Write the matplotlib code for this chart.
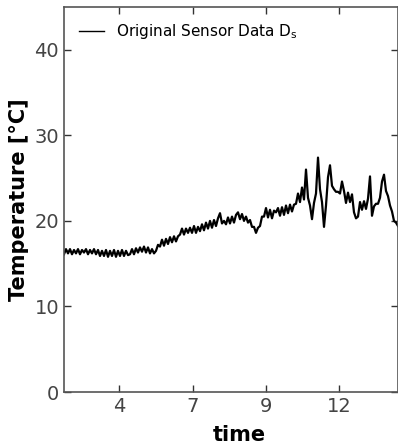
import numpy as np
import matplotlib
matplotlib.use("Agg")
import matplotlib.pyplot as plt

# sensor temperature readings (one value per ~2 px)
temps = [
    16.1, 16.7, 16.2, 16.7, 16.1, 16.6, 16.2, 16.7, 16.1, 16.6, 16.3, 16.7, 16.1, 16.6, 16.2, 16.7, 16.1, 16.6,
    15.9, 16.5, 15.9, 16.6, 15.8, 16.5, 15.9, 16.6, 15.8, 16.5, 15.9, 16.6, 15.9, 16.5, 16.0,
    16.1, 16.7, 16.1, 16.8, 16.3, 16.9, 16.4, 17.0, 16.3, 16.9, 16.2, 16.7, 16.2,
    16.5, 17.2, 17.0, 17.8, 17.1, 17.9, 17.3, 18.1, 17.5, 18.2, 17.6, 18.2,
    18.4, 19.1, 18.4, 19.1, 18.6, 19.2, 18.6, 19.4, 18.6, 19.3,
    18.8, 19.6, 18.9, 19.8, 19.1, 20.0, 19.2, 20.1, 19.4, 20.3,
    20.9, 19.7, 20.0, 19.6, 20.4, 19.7, 20.5, 19.8, 20.7, 21.0, 20.2, 20.8, 20.0, 20.5, 19.8,
    20.1, 19.3, 19.3, 18.6, 19.2, 19.4,
    20.5, 20.5, 21.5, 20.4, 21.3, 20.3, 21.2, 21.0, 21.5, 20.6, 21.6, 20.7, 21.8, 20.9, 21.9, 21.1, 21.9,
    22.0, 23.2, 22.2, 23.9, 22.5, 26.0, 22.7, 21.8, 20.2, 22.1, 23.2, 27.4, 23.7, 22.2, 19.3, 21.8,
    25.1, 26.5, 24.1, 23.7, 23.4, 23.4, 23.2, 24.6, 23.5, 22.1, 23.3, 22.2, 23.1, 21.0, 20.3, 20.5,
    22.2, 21.3, 22.3, 21.4, 22.6, 25.2, 20.6, 21.7, 22.0, 22.0, 22.7, 24.6, 25.4, 23.5, 22.9, 21.8,
    21.1, 20.0, 19.8, 19.4,
]
tick_pos = [27.5, 64.5, 101, 137.5]
tick_labels = ["4", "7", "9", "12"]
y_ticks = [0, 10, 20, 30, 40]

fig = plt.figure(figsize=(3.98, 4.46), dpi=100)
ax = fig.add_axes([64 / 398, 54 / 446, 334 / 398, 385 / 446])

t = np.arange(len(temps))
ax.plot(t, temps, color="black", lw=1.6, label="Original Sensor Data D$_\\mathregular{s}$")

ax.set_xlim(0, len(temps) - 1)
ax.set_ylim(0, 45)
ax.set_xticks(tick_pos)
ax.set_xticklabels(tick_labels)
ax.set_yticks(y_ticks)

ax.tick_params(direction="in", top=True, right=True, length=5, width=1,
               labelsize=14, labelcolor="#444444", color="#333333")
for s in ax.spines.values():
    s.set_color("#555555")
    s.set_linewidth(1.2)

ax.set_xlabel("time", fontsize=15, fontweight="bold")
ax.xaxis.set_label_coords(0.524, -0.086)
ax.set_ylabel("Temperature [°C]", fontsize=15, fontweight="bold", labelpad=4)

leg = ax.legend(loc="upper left", frameon=False, fontsize=11, handlelength=1.6,
                borderaxespad=0.6, bbox_to_anchor=(0.0, 1.0))
for h in leg.get_lines():
    h.set_linewidth(1.0)

fig.savefig("out.png", dpi=100)
